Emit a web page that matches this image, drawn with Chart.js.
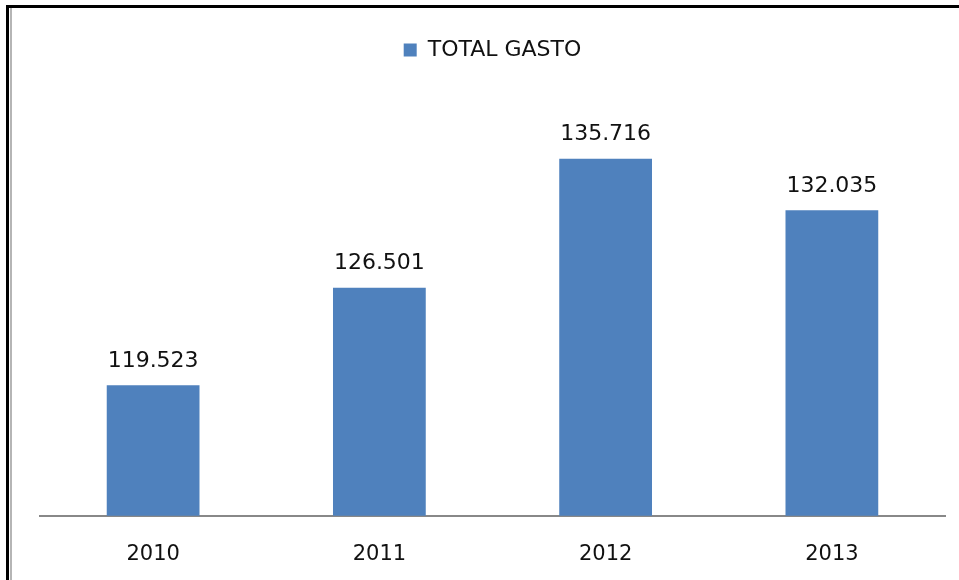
<!DOCTYPE html>
<html>
<head>
<meta charset="utf-8">
<script src="https://cdn.jsdelivr.net/npm/chart.js@4/dist/chart.umd.min.js"></script>
<style>
  html, body { margin: 0; padding: 0; background: #fff; }
  #wrap { position: relative; width: 959px; height: 580px; overflow: hidden; }
  #frame { position: absolute; left: 6px; top: 5px; width: 960px; height: 600px;
           border-top: 3px solid #000; border-left: 3px solid #000; box-sizing: border-box; }
  #frame2 { position: absolute; left: 10px; top: 8px; width: 2px; height: 600px; background: #b5b5b5; }
  canvas { position: absolute; left: 0; top: 0; }
</style>
</head>
<body>
<div id="wrap">
  <canvas id="myChart" width="959" height="580"></canvas>
  <div id="frame"></div>
  <div id="frame2"></div>
</div>
<script>
const years = ['2010', '2011', '2012', '2013'];
const totalGasto = [119.523, 126.501, 135.716, 132.035];
const valueLabels = ['119.523', '126.501', '135.716', '132.035'];
const yMin = 110.2;
const yMax = 140.2;

// etiquetas encima de las barras
const barLabels = {
    id: 'barLabels',
    afterDatasetsDraw(chart) {
        const ctx = chart.ctx;
        const meta = chart.getDatasetMeta(0);
        ctx.save();
        ctx.font = '22px "DejaVu Sans"';
        ctx.fillStyle = '#111';
        ctx.textAlign = 'center';
        ctx.textBaseline = 'middle';
        meta.data.forEach((bar, i) => {
            ctx.fillText(valueLabels[i], bar.x, bar.y - 24);
        });
        ctx.restore();
    }
};

// espacio extra debajo de la leyenda
const legendGap = {
    id: 'legendGap',
    beforeInit(chart) {
        const fit = chart.legend.fit;
        chart.legend.fit = function () {
            fit.bind(chart.legend)();
            this.height += 25;
        };
    }
};

let ctx = document.getElementById('myChart').getContext('2d');
let myChart = new Chart(ctx, {
    type: 'bar',
    data: {
        labels: years,
        datasets: [{
            label: 'TOTAL GASTO',
            data: totalGasto,
            backgroundColor: '#4F81BD',
            borderWidth: 0,
            categoryPercentage: 1,
            barPercentage: 0.41
        }]
    },
    options: {
        responsive: false,
        animation: false,
        layout: { padding: { left: 40, right: 14, top: 29, bottom: -13 } },
        plugins: {
            legend: {
                position: 'top',
                labels: {
                    boxWidth: 13,
                    boxHeight: 13,
                    padding: 10,
                    color: '#111',
                    font: { family: 'DejaVu Sans', size: 22 }
                }
            },
            tooltip: { enabled: false }
        },
        scales: {
            x: {
                grid: { display: false, drawTicks: false },
                border: { display: true, color: '#888888', width: 2 },
                ticks: {
                    padding: 26,
                    color: '#111',
                    font: { family: 'DejaVu Sans', size: 21 }
                }
            },
            y: {
                display: false,
                min: yMin,
                max: yMax
            }
        }
    },
    plugins: [barLabels, legendGap]
});
</script>
</body>
</html>
